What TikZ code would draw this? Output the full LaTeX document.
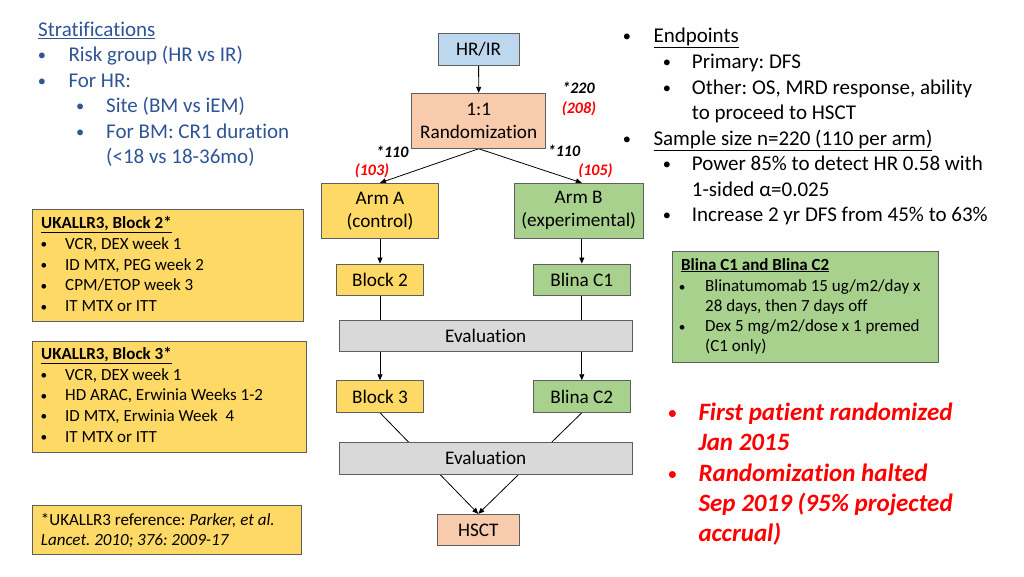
\documentclass[tikz,border=0pt]{standalone}
\usepackage{fontspec}
\setmainfont{Carlito}[Ligatures=NoCommon]
\usetikzlibrary{arrows.meta,backgrounds}
\definecolor{stratblue}{HTML}{2F5597}
\definecolor{bordgray}{HTML}{5F5F5F}
\definecolor{boxblue}{HTML}{BDD7EE}
\definecolor{boxpeach}{HTML}{F8CBAD}
\definecolor{boxyellow}{HTML}{FFD966}
\definecolor{boxgreen}{HTML}{A9D18E}
\definecolor{boxgray}{HTML}{D9D9D9}
\definecolor{redtxt}{HTML}{FF0000}
\newcommand\bt[1]{\makebox[0pt]{\raisebox{0.04em}{\scalebox{0.78}{\upshape\mdseries\textbullet}}}\hspace{#1}}
\begin{document}
\frenchspacing
\begin{tikzpicture}[x=1pt,y=-1pt,
  flow/.style={draw=bordgray, line width=0.9pt, inner sep=0pt, align=center,
    font=\fontsize{19.2}{23}\selectfont, text=black},
  arr/.style={-{Triangle[length=6pt,width=5pt]}, line width=0.8pt, black},
  infobox/.style={draw=bordgray, line width=0.9pt},
  big/.style={anchor=base west, inner sep=0pt, font=\fontsize{21}{25}\selectfont},
  small/.style={anchor=base west, inner sep=0pt, font=\fontsize{17}{20}\selectfont},
  redl/.style={anchor=base west, inner sep=0pt, text=redtxt, font=\fontsize{25}{30}\selectfont\bfseries\itshape},
  cnt/.style={anchor=base, inner sep=0pt, font=\fontsize{16}{18}\selectfont\bfseries\itshape},
]
\useasboundingbox (0,0) rectangle (1024,576);

% ---------- flow nodes ----------
\node[flow, fill=boxblue, minimum width=80.7pt, minimum height=31.7pt] (hrir) at (478.6,49.2) {HR/IR};
\node[flow, fill=boxpeach, minimum width=134pt, minimum height=55pt] (rand) at (478.7,120.8) {1:1\\Randomization};
\node[flow, fill=boxyellow, minimum width=116.6pt, minimum height=55pt] (armA) at (380,210.8) {Arm A\\(control)};
\node[flow, fill=boxgreen, minimum width=129.3pt, minimum height=55pt] (armB) at (578.7,210.8) {Arm B\\(experimental)};
\node[flow, fill=boxyellow, minimum width=86.6pt, minimum height=31pt] (block2) at (380,279.5) {Block 2};
\node[flow, fill=boxgreen, minimum width=97.7pt, minimum height=31pt] (blina1) at (581.8,279.5) {Blina C1};
\node[flow, fill=boxgray, minimum width=292.7pt, minimum height=31pt] (eval1) at (485.7,336.2) {Evaluation};
\node[flow, fill=boxyellow, minimum width=86.6pt, minimum height=31.6pt] (block3) at (380,396.5) {Block 3};
\node[flow, fill=boxgreen, minimum width=97.7pt, minimum height=31.6pt] (blina2) at (581.8,396.5) {Blina C2};
\node[flow, fill=boxgray, minimum width=292.7pt, minimum height=31.3pt] (eval2) at (485.7,458.3) {Evaluation};
\node[flow, fill=boxpeach, minimum width=82pt, minimum height=31.4pt] (hsct) at (478.3,530) {HSCT};

% ---------- connectors ----------
\begin{scope}[on background layer]
\fill[white] (0,0) rectangle (1024,576);
\draw[arr] (hrir.south) -- (rand.north);
\draw[arr] (rand.south) -- (armA.north);
\draw[arr] (rand.south) -- (blina1.north |- armB.north);
\draw[arr] (armA.south) -- (block2.north);
\draw[arr] (blina1.north |- armB.south) -- (blina1.north);
\draw[arr] (block2.south) -- (block3.north);
\draw[arr] (blina1.south) -- (blina2.north);
\draw[arr] (block3.south) -- (hsct.north);
\draw[arr] (blina2.south) -- (hsct.north);
\end{scope}

% ---------- counts ----------
\node[cnt] (n220) at (578.5,93.3) {*220};
\node[cnt, text=redtxt] (n208) at (579,113.3) {(208)};
\node[cnt] (n110a) at (392.3,157.7) {*110};
\node[cnt, text=redtxt] (n103) at (372,175) {(103)};
\node[cnt] (n110b) at (564,156.7) {*110};
\node[cnt, text=redtxt] (n105) at (595.5,175) {(105)};

% ---------- stratifications ----------
\begin{scope}[every node/.append style={text=stratblue}]
\node[big] (s0) at (38,36.7) {\underline{Stratifications}};
\node[big] (s1) at (41.7,61.7) {\bt{26.6pt}Risk group (HR vs IR)};
\node[big] (s2) at (41.7,87) {\bt{26.6pt}For HR:};
\node[big] (s3) at (80,112.5) {\bt{26pt}Site (BM vs iEM)};
\node[big] (s4) at (80,138) {\bt{26pt}For BM: CR1 duration};
\node[big] (s5) at (106,163.5) {(<18 vs 18-36mo)};
\end{scope}

% ---------- endpoints ----------
\node[big] (e0) at (626.8,42.7) {\bt{26.5pt}\underline{Endpoints}};
\node[big] (e1) at (666.7,68.3) {\bt{25pt}Primary: DFS};
\node[big] (e2) at (666.7,94) {\bt{25pt}Other: OS, MRD response, ability};
\node[big] (e3) at (691.7,119.5) {to proceed to HSCT};
\node[big] (e4) at (626.8,145) {\bt{26.5pt}\underline{Sample size n=220 (110 per arm)}};
\node[big] (e5) at (666.7,170.5) {\bt{25pt}Power 85\% to detect HR 0.58 with};
\node[big] (e6) at (691.7,196) {1-sided α=0.025};
\node[big] (e7) at (666.7,221.5) {\bt{25pt}Increase 2 yr DFS from 45\% to 63\%};

% ---------- block 2 info ----------
\node[infobox, fill=boxyellow, inner sep=0pt, minimum width=271pt, minimum height=111.4pt, anchor=north west] (b2box) at (32.3,209.3) {};
\node[small] (b2t) at (41,228.3) {\bfseries\underline{UKALLR3, Block 2*}};
\node[small] (b2a) at (43.7,249.3) {\bt{21.3pt}VCR, DEX week 1};
\node[small] (b2b) at (43.7,270) {\bt{21.3pt}ID MTX, PEG week 2};
\node[small] (b2c) at (43.7,290.7) {\bt{21.3pt}CPM/ETOP week 3};
\node[small] (b2d) at (43.7,311.7) {\bt{21.3pt}IT MTX or ITT};

% ---------- block 3 info ----------
\node[infobox, fill=boxyellow, inner sep=0pt, minimum width=273.4pt, minimum height=111pt, anchor=north west] (b3box) at (32.3,340.7) {};
\node[small] (b3t) at (41,359.3) {\bfseries\underline{UKALLR3, Block 3*}};
\node[small] (b3a) at (43.7,380) {\bt{21.3pt}VCR, DEX week 1};
\node[small] (b3b) at (43.7,400.7) {\bt{21.3pt}HD ARAC, Erwinia Weeks 1-2};
\node[small] (b3c) at (43.7,421.3) {\bt{21.3pt}ID MTX, Erwinia Week\ \ 4};
\node[small] (b3d) at (43.7,442) {\bt{21.3pt}IT MTX or ITT};

% ---------- reference ----------
\node[infobox, fill=boxyellow, inner sep=0pt, minimum width=268.4pt, minimum height=49.3pt, anchor=north west] (refbox) at (32.3,505) {};
\node[small] (r1) at (40.7,525) {*UKALLR3 reference: \textit{Parker, et al.}};
\node[small] (r2) at (40.7,545) {\textit{Lancet. 2010; 376: 2009-17}};

% ---------- blina info ----------
\node[infobox, fill=boxgreen, inner sep=0pt, minimum width=265.4pt, minimum height=111.3pt, anchor=north west] (blbox) at (672.3,251) {};
\node[small] (bl0) at (681,270) {\bfseries\underline{Blina C1 and Blina C2}};
\node[small] (bl1) at (682,291.7) {\bt{23pt}Blinatumomab 15 ug/m2/day x};
\node[small] (bl2) at (705,311.7) {28 days, then 7 days off};
\node[small] (bl3) at (682,331.7) {\bt{23pt}Dex 5 mg/m2/dose x 1 premed};
\node[small] (bl4) at (705,351.7) {(C1 only)};

% ---------- red notes ----------
\node[redl] (d1) at (672.3,420) {\bt{26pt}First patient randomized};
\node[redl] (d2) at (698.3,450.7) {Jan 2015};
\node[redl] (d3) at (672.3,481) {\bt{26pt}Randomization halted};
\node[redl] (d4) at (698.3,511.7) {Sep 2019 (95\% projected};
\node[redl] (d5) at (698.3,541.7) {accrual)};
\end{tikzpicture}
\end{document}
